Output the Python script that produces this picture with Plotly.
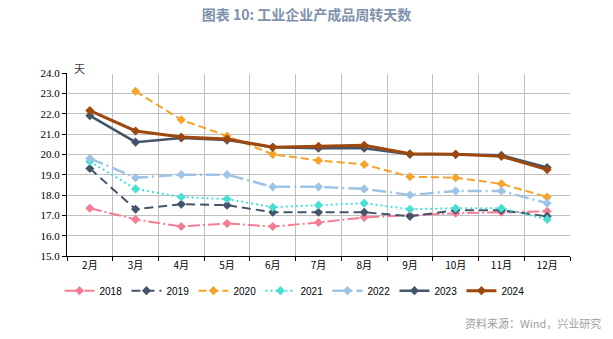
import plotly.graph_objects as go

months = ["2月", "3月", "4月", "5月", "6月", "7月", "8月", "9月", "10月", "11月", "12月"]
y2018 = [17.35, 16.8, 16.45, 16.6, 16.45, 16.65, 16.9, 17.0, 17.1, 17.15, 17.2]
y2019 = [19.3, 17.3, 17.55, 17.5, 17.15, 17.15, 17.15, 16.95, 17.25, 17.25, 16.95]
y2020 = [None, 23.1, 21.7, 20.9, 20.0, 19.7, 19.5, 18.9, 18.85, 18.55, 17.9]
y2021 = [19.65, 18.3, 17.9, 17.8, 17.4, 17.5, 17.6, 17.3, 17.35, 17.35, 16.8]
y2022 = [19.8, 18.85, 19.0, 19.0, 18.4, 18.4, 18.3, 18.0, 18.2, 18.2, 17.6]
y2023 = [21.9, 20.6, 20.8, 20.7, 20.35, 20.3, 20.3, 20.0, 20.0, 19.95, 19.35]
y2024 = [22.15, 21.15, 20.85, 20.75, 20.35, 20.4, 20.45, 20.03, 20.0, 19.9, 19.25]
yticks = [15, 16, 17, 18, 19, 20, 21, 22, 23, 24]

x = list(range(len(months)))

series = [
    ("2018", y2018, "#F47C93", "12px,3px,2px,3px", 2),
    ("2019", y2019, "#44546A", "9px,5px", 2),
    ("2020", y2020, "#F5A32A", "8px,4px", 2),
    ("2021", y2021, "#48E0D2", "2px,3px", 2),
    ("2022", y2022, "#9DC3E6", "14px,4px,2px,4px", 2.5),
    ("2023", y2023, "#44546A", "solid", 2.5),
    ("2024", y2024, "#9E480E", "solid", 3),
]

fig = go.Figure()
for name, ys, color, dash, w in series:
    fig.add_trace(go.Scatter(
        x=x, y=ys, name=name, mode="lines+markers",
        line=dict(color=color, width=w, dash=dash),
        marker=dict(symbol="diamond", size=7, color=color),
        connectgaps=False,
    ))

fig.update_layout(
    width=613, height=339,
    margin=dict(l=67, r=43, t=73, b=83),
    paper_bgcolor="white", plot_bgcolor="white",
    title=dict(text="<b>图表 10: 工业企业产成品周转天数</b>", x=0.5, xanchor="center",
               y=0.955, yanchor="middle",
               font=dict(family="Noto Sans CJK SC", size=14, color="#8091AB")),
    xaxis=dict(
        range=[-0.5, len(months) - 0.5],
        tickmode="array", tickvals=x, ticktext=months,
        showgrid=False, ticks="", showline=True, linecolor="black", linewidth=1,
        tickfont=dict(family="Noto Sans CJK SC", size=10, color="black"),
        minor=dict(tick0=-0.5, dtick=1, showgrid=True, gridcolor="#BFBFBF", gridwidth=1,
                   ticks="outside", ticklen=4, tickcolor="black"),
        zeroline=False,
    ),
    yaxis=dict(
        range=[15, 24], tickmode="array", tickvals=yticks,
        ticktext=[f"{v:.1f}" for v in yticks],
        showgrid=True, gridcolor="#BFBFBF", gridwidth=1,
        showline=True, linecolor="black", linewidth=1,
        ticks="outside", ticklen=4, tickcolor="black",
        tickfont=dict(family="Liberation Serif", size=11, color="black"),
        zeroline=False,
    ),
    legend=dict(orientation="h", x=-0.015, xanchor="left", y=-0.11, yanchor="top",
                font=dict(family="Liberation Sans", size=10, color="black"),
                entrywidth=22, entrywidthmode="pixels", itemwidth=30,
                tracegroupgap=0, bgcolor="rgba(0,0,0,0)"),
    showlegend=True,
)

# hide gridline at the top tick (reference has no top gridline)
fig.add_shape(type="line", xref="paper", yref="y", x0=0.003, x1=1, y0=24, y1=24,
              line=dict(color="white", width=2), layer="above")

fig.add_annotation(text="天", xref="paper", yref="paper", x=0.01, y=1.03,
                   xanchor="left", yanchor="middle", showarrow=False,
                   font=dict(family="Noto Sans CJK SC", size=11, color="#404040"))
fig.add_annotation(text="资料来源：Wind，兴业研究", xref="paper", yref="paper",
                   x=1.065, y=-0.366, xanchor="right", yanchor="middle", showarrow=False,
                   font=dict(family="Noto Sans CJK SC", size=11, color="#A0A0A0"))

fig.write_html("out.html")
